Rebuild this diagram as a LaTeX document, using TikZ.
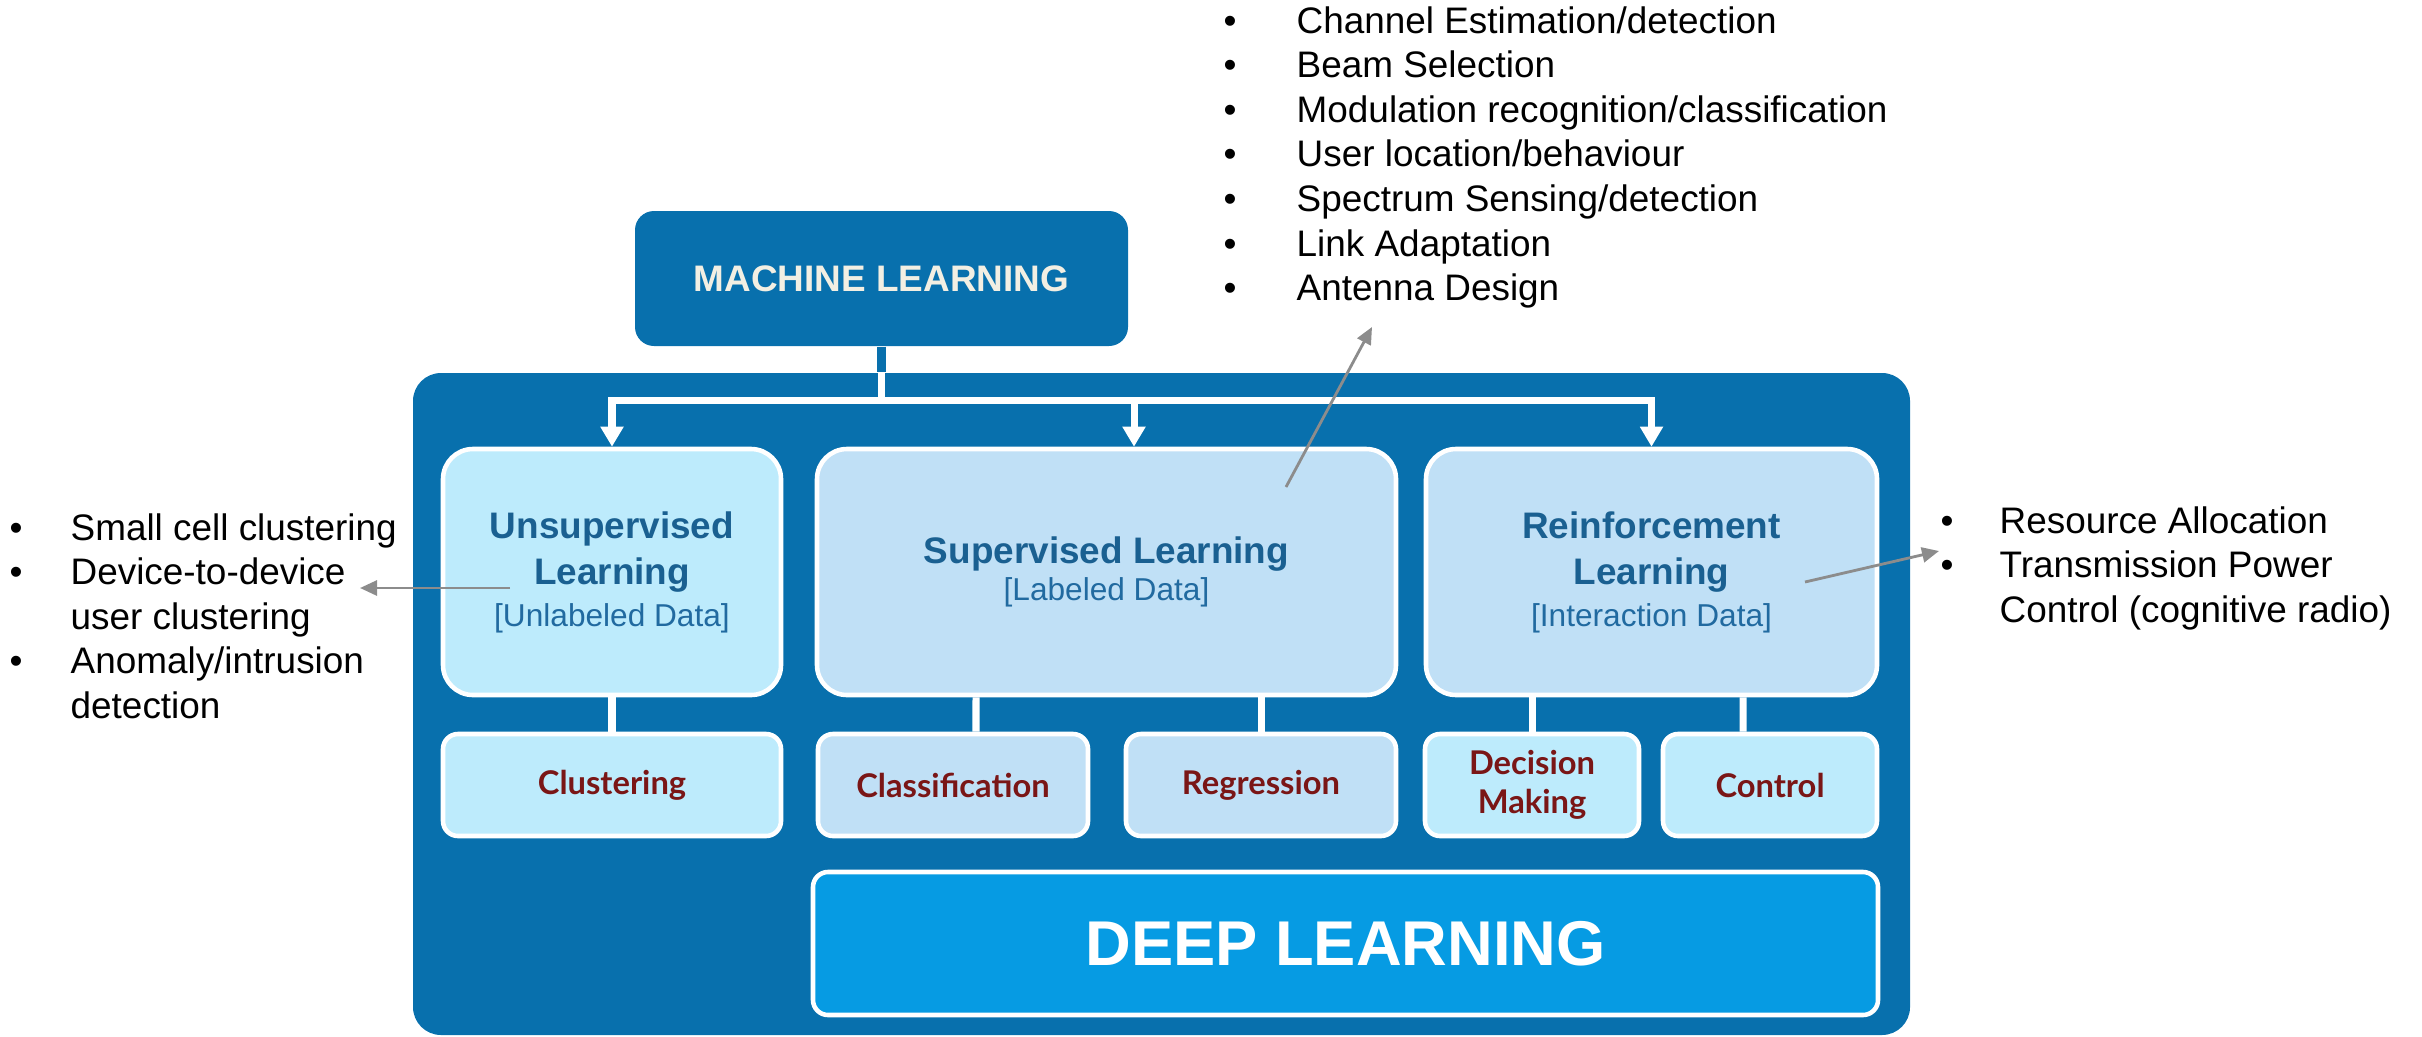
\documentclass[tikz,border=0pt]{standalone}
\usepackage{fontspec}
\setmainfont{Liberation Sans}
\newfontfamily\latofont{Lato}
\usepackage{tikz}
\usetikzlibrary{arrows.meta,positioning,calc}

\definecolor{mlblue}{RGB}{8,112,173}
\definecolor{dlblue}{RGB}{6,155,227}
\definecolor{skyfill}{RGB}{189,235,252}
\definecolor{icefill}{RGB}{192,224,246}
\definecolor{headblue}{RGB}{26,96,145}
\definecolor{subblue}{RGB}{33,106,160}
\definecolor{taskred}{RGB}{122,22,22}
\definecolor{cream}{RGB}{242,239,227}
\definecolor{arrowgray}{RGB}{140,140,140}

\newcommand{\headfont}{\bfseries\fontsize{10.5}{13.3}\selectfont}
\newcommand{\datafont}{\mdseries\fontsize{9}{11.6}\selectfont}
\newcommand{\listfont}{\fontsize{10.5}{12.7}\selectfont}

\begin{document}
\begin{tikzpicture}[panel/.style={fill=mlblue,rounded corners=0.28cm,inner sep=0pt},
  family/.style={draw=white,line width=1.3pt,rounded corners=0.3cm,minimum height=2.46cm,align=center,inner sep=0pt,text=headblue,font=\headfont},
  task/.style={draw=white,line width=1.3pt,rounded corners=0.15cm,minimum height=1.02cm,align=center,inner sep=0pt,text=taskred,font=\latofont\bfseries\fontsize{9.3}{11}\selectfont},
  deepbox/.style={draw=white,line width=1.3pt,fill=dlblue,rounded corners=0.15cm,text=white,font=\bfseries\fontsize{18}{22}\selectfont},
  wire/.style={draw=white,line width=2pt},
  branch/.style={wire,-{Triangle[width=0.22cm,length=0.2cm]}},
  pointer/.style={draw=arrowgray,line width=0.8pt,-{Triangle[width=0.15cm,length=0.17cm]}},
  items/.style={anchor=base west,inner sep=0pt,font=\listfont}]
\useasboundingbox (0,0) rectangle (24.22,-10.36);

\node(outer)[panel,minimum width=14.97cm,minimum height=6.62cm] at (11.615,-7.04) {};
\node(ml)[panel,rounded corners=0.19cm,minimum width=4.93cm,minimum height=1.35cm,text=cream,font=\headfont] at (8.815,-2.785) {MACHINE LEARNING};

\node(unsup)[family,fill=skyfill,minimum width=3.38cm] at (6.12,-5.72) {Unsupervised\\ Learning\\[-1.6pt] {\color{subblue}\datafont [Unlabeled Data]}};
\node(sup)[family,fill=icefill,minimum width=5.79cm] at (11.065,-5.72) {Supervised Learning\\[-3pt] {\color{subblue}\datafont [Labeled Data]}};
\node(reinf)[family,fill=icefill,minimum width=4.51cm] at (16.515,-5.72) {Reinforcement\\ Learning\\[-1.6pt] {\color{subblue}\datafont [Interaction Data]}};

\node(clu)[task,fill=skyfill,minimum width=3.38cm] at (6.12,-7.85) {Clustering};
\node(cls)[task,fill=icefill,minimum width=2.70cm] at (9.53,-7.85) {Classification};
\node(reg)[task,fill=icefill,minimum width=2.70cm] at (12.61,-7.85) {Regression};
\node(dec)[task,fill=skyfill,minimum width=2.14cm] at (15.32,-7.85) {Decision\\Making};
\node(ctl)[task,fill=skyfill,minimum width=2.14cm] at (17.70,-7.85) {Control};

\node(deep)[deepbox,minimum width=10.65cm,minimum height=1.43cm] at (13.455,-9.435) {DEEP LEARNING};

\coordinate (fork) at ($(ml.south)+(0,-0.54)$);
\draw[mlblue,line width=2.3pt] (ml.south) -- (ml.south |- outer.north);
\draw[wire] (ml.south |- outer.north) -- (fork);
\draw[branch] (fork) -| (unsup.north);
\draw[branch] (fork) -| ($(sup.north)+(0.275,0)$);
\draw[branch] (fork) -| (reinf.north);

\draw[wire] (unsup) -- (clu);
\draw[wire] ($(cls.north)+(0.23,0)$) -- ($(sup.south)+(-1.305,0)$);
\draw[wire] (sup.south -| reg.north) -- (reg.north);
\draw[wire] (reinf.south -| dec.north) -- (dec.north);
\draw[wire] ($(ctl.north)+(-0.27,0)$) -- ($(reinf.south)+(0.915,0)$);

\node(uselist)[items] at (0.09,-5.40) {\begin{tabular}[t]{@{}p{0.61cm}@{}l@{}}
\textbullet & Small cell clustering\\
\textbullet & Device-to-device\\
 & user clustering\\
\textbullet & Anomaly/intrusion\\
 & detection
\end{tabular}};
\node(suplist)[items] at (12.23,-0.33) {\begin{tabular}[t]{@{}p{0.73cm}@{}l@{}}
\textbullet & Channel Estimation/detection\\
\textbullet & Beam Selection\\
\textbullet & Modulation recognition/classification\\
\textbullet & User location/behaviour\\
\textbullet & Spectrum Sensing/detection\\
\textbullet & Link Adaptation\\
\textbullet & Antenna Design
\end{tabular}};
\node(rllist)[items] at (19.40,-5.33) {\begin{tabular}[t]{@{}p{0.59cm}@{}l@{}}
\textbullet & Resource Allocation\\
\textbullet & Transmission Power\\
 & Control (cognitive radio)
\end{tabular}};

\coordinate (usetip) at (3.60,-5.88);
\coordinate (suptip) at (13.72,-3.27);
\coordinate (rltip) at (19.39,-5.51);
\draw[pointer] ($(unsup)+(-1.02,-0.16)$) -- (usetip);
\draw[pointer] ($(sup)+(1.795,0.85)$) -- (suptip);
\draw[pointer] ($(reinf)+(1.535,-0.10)$) -- (rltip);
\end{tikzpicture}
\end{document}
